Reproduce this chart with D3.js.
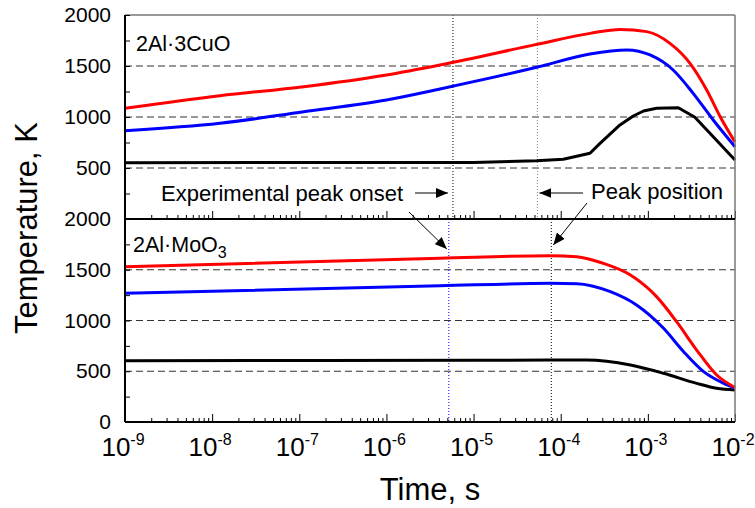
<!DOCTYPE html>
<html>
<head>
<meta charset="utf-8">
<script src="https://cdn.jsdelivr.net/npm/d3@7"></script>
<style>
  body { margin: 0; background: #fff; }
  svg { font-family: "Liberation Sans", Arial, sans-serif; }
</style>
</head>
<body>
<svg id="chart" width="755" height="508"></svg>
<script>
// log10(time, s) and temperature, K for each curve
var cuoRedLogT  = [-9, -7.91, -6.95, -6.0, -5.385, -4.276, -3.664, -3.32, -3.013, -2.746, -2.516, -2.325, -2.17, -2.0];
var cuoRedT     = [1085, 1209, 1297, 1412, 1510, 1712, 1820, 1859, 1837, 1722, 1526, 1265, 1003, 755];
var cuoBlueLogT = [-9, -7.91, -6.95, -6.0, -5.385, -4.276, -3.664, -3.24, -2.975, -2.71, -2.48, -2.25, -2.0];
var cuoBlueT    = [866, 938, 1052, 1167, 1275, 1487, 1618, 1657, 1608, 1461, 1232, 971, 709];
var cuoBlackLogT = [-9, -5, -4.276, -3.97, -3.664, -3.549, -3.32, -3.167, -3.05, -2.9, -2.65, -2.46, -2.25, -2.0];
var cuoBlackT    = [552, 555, 572, 585, 644, 742, 922, 1010, 1059, 1085, 1091, 997, 807, 578];

var mooRedLogT  = [-9, -5.385, -4.12, -3.816, -3.51, -3.2, -2.9, -2.67, -2.44, -2.21, -2.0];
var mooRedT     = [1530, 1613, 1638, 1629, 1563, 1448, 1235, 988, 709, 463, 340];
var mooBlueLogT = [-9, -5.385, -4.12, -3.816, -3.43, -3.13, -2.82, -2.59, -2.36, -2.13, -2.0];
var mooBlueT    = [1268, 1343, 1366, 1363, 1284, 1153, 923, 693, 496, 381, 335];
var mooBlackLogT = [-9, -5, -4.12, -3.7, -3.2, -2.82, -2.44, -2.21, -2.0];
var mooBlackT    = [604, 608, 611, 611, 562, 480, 381, 332, 315];

// vertical marker lines (s)
var cuoOnset = 5.8e-6, cuoPeak = 5.4e-5;
var mooOnset = 5.2e-6, mooPeak = 7.8e-5;

var yMinor = [250, 750, 1250, 1750];
var decades = [-9, -8, -7, -6, -5, -4, -3, -2];

var svg = d3.select("#chart");
var pLeft = 125, pRight = 735, pTop = 15, pMid = 219, pBottom = 422;

var x = d3.scaleLog().domain([1e-9, 1e-2]).range([pLeft, pRight]);
var yTop = d3.scaleLinear().domain([0, 2000]).range([pMid, pTop]);
var yBot = d3.scaleLinear().domain([0, 2000]).range([pBottom, pMid]);

// arrow marker
svg.append("defs").append("marker")
    .attr("id", "arr")
    .attr("viewBox", "0 0 12 10")
    .attr("refX", 12).attr("refY", 5)
    .attr("markerWidth", 12).attr("markerHeight", 10)
    .attr("markerUnits", "userSpaceOnUse")
    .attr("orient", "auto")
  .append("path")
    .attr("d", "M0,0 L12,5 L0,10 Z")
    .attr("fill", "#000");

function zip(a, b) {
  return a.map(function(v, i) { return [Math.pow(10, v), b[i]]; });
}

function panel(y, curves, onset, peak, onsetColor, peakColor) {
  // dashed grid
  svg.append("g").selectAll("line")
    .data([500, 1000, 1500])
    .enter().append("line")
      .attr("x1", pLeft).attr("x2", pRight)
      .attr("y1", function(d) { return y(d); })
      .attr("y2", function(d) { return y(d); })
      .attr("stroke", "#333").attr("stroke-width", 1)
      .attr("stroke-dasharray", "7,4");

  // dotted verticals
  svg.append("line")
      .attr("x1", x(onset)).attr("x2", x(onset))
      .attr("y1", y(2000)).attr("y2", y(0))
      .attr("stroke", onsetColor).attr("stroke-width", 1)
      .attr("stroke-dasharray", "1,2");
  svg.append("line")
      .attr("x1", x(peak)).attr("x2", x(peak))
      .attr("y1", y(2000)).attr("y2", y(0))
      .attr("stroke", peakColor).attr("stroke-width", 1)
      .attr("stroke-dasharray", "1,2");

  curves.forEach(function(c) {
    var line = d3.line()
      .x(function(d) { return x(d[0]); })
      .y(function(d) { return y(d[1]); })
      .curve(c.linear ? d3.curveLinear : d3.curveMonotoneX);
    svg.append("path")
      .datum(c.data)
      .attr("d", line)
      .attr("fill", "none")
      .attr("stroke", c.color)
      .attr("stroke-width", 3)
      .attr("stroke-linejoin", "round");
  });

  // minor y ticks
  svg.append("g")
      .attr("transform", "translate(" + pLeft + ",0)")
      .call(d3.axisRight(y).tickValues(yMinor).tickSize(5).tickFormat(""))
      .call(function(g) { g.select(".domain").remove(); });

  // x ticks pointing up at bottom of panel
  var minors = [];
  decades.forEach(function(e) {
    if (e === -2) return;
    for (var k = 2; k <= 9; k++) minors.push(k * Math.pow(10, e));
  });
  var xa = svg.append("g").attr("transform", "translate(0," + y(0) + ")");
  xa.append("g").call(d3.axisTop(x).tickValues(minors).tickSize(4).tickFormat(""))
    .call(function(g) { g.select(".domain").remove(); });
  xa.append("g").call(d3.axisTop(x).tickValues(decades.map(function(e) { return Math.pow(10, e); })).tickSize(8).tickFormat(""))
    .call(function(g) { g.select(".domain").remove(); });
  xa.selectAll("line").attr("stroke", "#000").attr("stroke-width", 1);
}

panel(yTop, [
  { data: zip(cuoBlackLogT, cuoBlackT), color: "#000", linear: true },
  { data: zip(cuoBlueLogT, cuoBlueT), color: "#0000ff" },
  { data: zip(cuoRedLogT, cuoRedT), color: "#ff0000" }
], cuoOnset, cuoPeak, "#000", "#888");

panel(yBot, [
  { data: zip(mooBlackLogT, mooBlackT), color: "#000" },
  { data: zip(mooBlueLogT, mooBlueT), color: "#0000ff" },
  { data: zip(mooRedLogT, mooRedT), color: "#ff0000" }
], mooOnset, mooPeak, "#0000ff", "#000");

// frame: grey top and right, black left, divider and bottom
svg.append("line").attr("x1", pLeft).attr("x2", pRight).attr("y1", pTop).attr("y2", pTop)
    .attr("stroke", "#777").attr("stroke-width", 1.5);
svg.append("line").attr("x1", pRight).attr("x2", pRight).attr("y1", pTop).attr("y2", pBottom)
    .attr("stroke", "#777").attr("stroke-width", 1.5);
svg.append("line").attr("x1", pLeft).attr("x2", pRight).attr("y1", pMid).attr("y2", pMid)
    .attr("stroke", "#000").attr("stroke-width", 2);
svg.append("line").attr("x1", pLeft).attr("x2", pRight).attr("y1", pBottom).attr("y2", pBottom)
    .attr("stroke", "#000").attr("stroke-width", 2);
svg.append("line").attr("x1", pLeft).attr("x2", pLeft).attr("y1", pTop).attr("y2", pBottom)
    .attr("stroke", "#000").attr("stroke-width", 2);

// y tick labels
function yLabels(y, vals) {
  svg.append("g")
      .attr("transform", "translate(" + pLeft + ",0)")
      .call(d3.axisLeft(y).tickValues(vals).tickSizeInner(-5).tickSizeOuter(0).tickPadding(14).tickFormat(d3.format("d")))
      .call(function(g) {
        g.select(".domain").remove();
        g.selectAll("text").attr("font-size", 21).attr("fill", "#000")
          .attr("font-family", "Liberation Sans, Arial, sans-serif");
      });
}
yLabels(yTop, [500, 1000, 1500, 2000]);
yLabels(yBot, [0, 500, 1000, 1500, 2000]);

// x tick labels 10^n
var xl = svg.append("g").selectAll("text")
  .data(decades)
  .enter().append("text")
    .attr("x", function(d) { return x(Math.pow(10, d)) - 2; })
    .attr("y", 456)
    .attr("text-anchor", "middle")
    .attr("font-size", 26);
xl.append("tspan").text("10");
xl.append("tspan").attr("dy", -11).attr("font-size", 16).text(function(d) { return "-" + (-d); });

// axis titles
svg.append("text")
    .attr("x", (pLeft + pRight) / 2).attr("y", 500)
    .attr("text-anchor", "middle")
    .attr("font-size", 31)
    .text("Time, s");
svg.append("text")
    .attr("transform", "translate(37,228) rotate(-90)")
    .attr("text-anchor", "middle")
    .attr("font-size", 31)
    .text("Temperature, K");

// panel labels
svg.append("text").attr("x", 136).attr("y", 51).attr("font-size", 21.5)
    .text("2Al\u00B73CuO");
var moo = svg.append("text").attr("x", 133).attr("y", 252).attr("font-size", 21.5);
moo.append("tspan").text("2Al\u00B7MoO");
moo.append("tspan").attr("dy", 6).attr("font-size", 16).text("3");

// annotations
svg.append("text").attr("x", 161).attr("y", 201).attr("font-size", 22)
    .text("Experimental peak onset");
svg.append("text").attr("x", 591).attr("y", 199).attr("font-size", 22)
    .text("Peak position");

function arrow(x1, y1, x2, y2) {
  svg.append("line")
      .attr("x1", x1).attr("y1", y1).attr("x2", x2).attr("y2", y2)
      .attr("stroke", "#000").attr("stroke-width", 1)
      .attr("marker-end", "url(#arr)");
}
arrow(415, 193, x(cuoOnset) - 5, 193);
arrow(583, 193, x(cuoPeak) + 2, 193);
arrow(409, 212, x(mooOnset) - 2, 249);
arrow(587, 203, x(mooPeak) + 2, 245);
</script>
</body>
</html>
